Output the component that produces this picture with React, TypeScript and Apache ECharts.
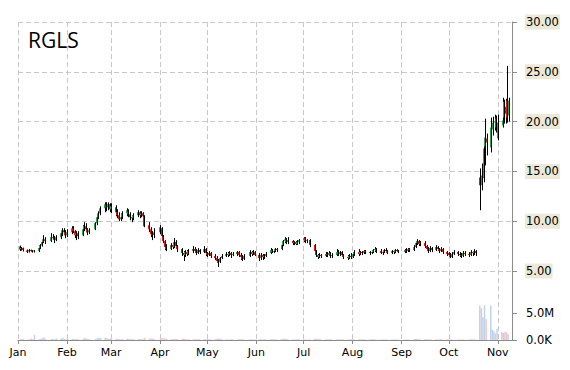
import React, { useEffect, useRef } from 'react';
import * as echarts from 'echarts';

const YEAR = 2013;
const MONTH_NAMES = ['Jan', 'Feb', 'Mar', 'Apr', 'May', 'Jun', 'Jul', 'Aug', 'Sep', 'Oct', 'Nov', 'Dec'];
const TICKER = 'RGLS';

// trading days (day of month) for each month, Jan..Nov
const TRADING_DAYS: number[][] = [
  [2, 3, 4, 7, 8, 9, 10, 11, 14, 15, 16, 17, 18, 22, 23, 24, 25, 28, 29, 30, 31],
  [1, 4, 5, 6, 7, 8, 11, 12, 13, 14, 15, 19, 20, 21, 22, 25, 26, 27, 28],
  [1, 4, 5, 6, 7, 8, 11, 12, 13, 14, 15, 18, 19, 20, 21, 22, 25, 26, 27, 28],
  [1, 2, 3, 4, 5, 8, 9, 10, 11, 12, 15, 16, 17, 18, 19, 22, 23, 24, 25, 26, 29, 30],
  [1, 2, 3, 6, 7, 8, 9, 10, 13, 14, 15, 16, 17, 20, 21, 22, 23, 24, 28, 29, 30, 31],
  [3, 4, 5, 6, 7, 10, 11, 12, 13, 14, 17, 18, 19, 20, 21, 24, 25, 26, 27, 28],
  [1, 2, 3, 5, 8, 9, 10, 11, 12, 15, 16, 17, 18, 19, 22, 23, 24, 25, 26, 29, 30, 31],
  [1, 2, 5, 6, 7, 8, 9, 12, 13, 14, 15, 16, 19, 20, 21, 22, 23, 26, 27, 28, 29, 30],
  [3, 4, 5, 6, 9, 10, 11, 12, 13, 16, 17, 18, 19, 20, 23, 24, 25, 26, 27, 30],
  [1, 2, 3, 4, 7, 8, 9, 10, 11, 14, 15, 16, 17, 18, 21, 22, 23, 24, 25, 28, 29, 30, 31],
  [1, 4, 5, 6, 7, 8],
];

// [open, close, low, high]
const OHLC_JAN = [
  [7.45, 7.15, 7.0, 7.55], [7.2, 7.3, 7.05, 7.4], [7.3, 7.1, 6.95, 7.35], [7.05, 6.9, 6.8, 7.15],
  [6.95, 7.1, 6.85, 7.2], [7.1, 7.0, 6.9, 7.15], [7.0, 6.95, 6.85, 7.1], [6.95, 7.05, 6.85, 7.1],
  [7.0, 7.3, 6.9, 7.4], [7.3, 7.6, 7.2, 7.7], [7.55, 7.9, 7.45, 8.0], [7.9, 8.2, 7.8, 8.6],
  [8.2, 8.0, 7.7, 8.4], [8.0, 8.4, 7.9, 8.8], [8.4, 8.3, 8.1, 8.7], [8.3, 8.1, 7.8, 8.5],
  [8.1, 8.4, 8.0, 8.6], [8.4, 8.8, 8.2, 9.0], [8.8, 9.1, 8.5, 9.3], [9.1, 8.9, 8.6, 9.3],
  [8.9, 8.6, 8.3, 9.1],
];
const OHLC_FEB = [
  [8.6, 8.9, 8.4, 9.2], [8.9, 9.3, 8.7, 9.5], [9.3, 9.0, 8.8, 9.5], [9.0, 8.6, 8.3, 9.1],
  [8.6, 8.8, 8.1, 9.0], [8.8, 8.5, 8.2, 9.0], [8.6, 9.2, 8.5, 9.6], [9.2, 9.5, 9.0, 9.9],
  [9.5, 9.2, 8.9, 9.8], [9.2, 8.9, 8.6, 9.3], [8.9, 9.1, 8.7, 9.3], [9.2, 9.8, 9.1, 9.9],
  [9.8, 10.4, 9.6, 10.5], [10.4, 10.8, 10.2, 11.0], [10.8, 11.3, 10.6, 11.5], [11.3, 11.7, 10.9, 11.9],
  [11.6, 11.4, 11.0, 11.9], [11.4, 11.7, 11.1, 11.9], [11.7, 11.2, 10.9, 11.8],
];
const OHLC_MAR = [
  [11.2, 11.5, 10.8, 11.8], [11.4, 10.9, 10.5, 11.6], [10.9, 10.6, 10.3, 11.2], [10.6, 10.2, 10.0, 10.9],
  [10.2, 10.4, 10.0, 10.8], [10.4, 10.8, 10.2, 11.0], [10.8, 11.1, 10.5, 11.3], [11.0, 10.7, 10.4, 11.2],
  [10.7, 10.4, 10.1, 10.9], [10.4, 10.3, 9.9, 10.6], [10.3, 10.6, 10.1, 10.8], [10.6, 10.9, 10.4, 11.1],
  [10.9, 10.6, 10.3, 11.0], [10.6, 10.8, 10.4, 11.0], [10.8, 10.5, 10.2, 10.9], [10.5, 9.5, 9.4, 10.6],
  [9.6, 9.2, 8.9, 9.9], [9.2, 8.7, 8.4, 9.4], [8.7, 8.6, 8.1, 9.0], [8.6, 8.9, 8.3, 9.3],
];
const OHLC_APR = [
  [8.9, 9.4, 8.7, 9.6], [9.3, 8.5, 8.2, 9.4], [8.5, 8.0, 7.8, 8.6], [8.0, 7.4, 7.1, 8.1],
  [7.4, 7.2, 7.0, 7.7], [7.2, 7.6, 7.1, 7.8], [7.6, 7.4, 7.2, 7.9], [7.4, 7.9, 7.3, 8.3],
  [7.9, 7.5, 7.3, 8.1], [7.5, 7.2, 6.9, 7.6], [7.2, 6.8, 6.5, 7.3], [6.8, 6.6, 6.0, 7.0],
  [6.6, 6.9, 6.4, 7.1], [6.9, 6.7, 6.5, 7.1], [6.7, 7.0, 6.6, 7.2], [7.0, 7.2, 6.8, 7.5],
  [7.2, 7.0, 6.8, 7.4], [7.0, 6.8, 6.6, 7.2], [6.8, 7.1, 6.7, 7.3], [7.1, 6.9, 6.7, 7.2],
  [6.9, 7.2, 6.8, 7.5], [7.2, 6.8, 6.5, 7.3],
];
const OHLC_MAY = [
  [6.8, 6.6, 6.4, 6.9], [6.6, 6.8, 6.5, 7.0], [6.8, 6.5, 6.3, 6.9], [6.5, 6.3, 6.1, 6.7],
  [6.3, 6.0, 5.8, 6.5], [6.0, 5.8, 5.4, 6.2], [5.9, 6.3, 5.8, 6.4], [6.3, 6.5, 6.2, 6.7],
  [6.5, 6.7, 6.4, 6.9], [6.7, 6.6, 6.4, 6.9], [6.6, 6.8, 6.5, 7.0], [6.8, 6.6, 6.3, 6.9],
  [6.6, 6.7, 6.5, 6.9], [6.7, 6.9, 6.5, 7.0], [6.9, 6.6, 6.4, 7.0], [6.6, 6.4, 6.1, 6.8],
  [6.4, 6.2, 6.0, 6.6], [6.2, 6.5, 6.1, 6.7], [6.5, 6.9, 6.4, 7.1], [6.9, 6.7, 6.5, 7.0],
  [6.7, 6.9, 6.6, 7.1], [6.9, 6.6, 6.5, 7.0],
];
const OHLC_JUN = [
  [6.6, 6.3, 6.0, 6.8], [6.3, 6.6, 6.1, 6.8], [6.6, 6.4, 6.1, 6.7], [6.4, 6.5, 6.2, 6.7],
  [6.5, 6.7, 6.4, 6.9], [6.8, 7.1, 6.7, 7.3], [7.1, 6.9, 6.8, 7.2], [6.9, 7.0, 6.8, 7.2],
  [7.0, 7.2, 6.9, 7.3], [7.2, 7.1, 6.9, 7.3], [7.2, 7.6, 7.1, 7.7], [7.6, 8.0, 7.5, 8.1],
  [8.0, 8.2, 7.8, 8.4], [8.2, 7.9, 7.7, 8.3], [7.9, 8.1, 7.7, 8.4], [8.0, 7.8, 7.6, 8.1],
  [7.8, 7.9, 7.6, 8.0], [7.9, 7.7, 7.6, 8.0], [7.7, 7.9, 7.6, 8.1], [7.9, 8.1, 7.7, 8.2],
];
const OHLC_JUL = [
  [8.1, 8.3, 7.9, 8.4], [8.3, 8.0, 7.8, 8.4], [8.0, 8.1, 7.8, 8.2], [8.1, 7.6, 7.4, 8.2],
  [7.6, 7.0, 6.8, 7.7], [7.0, 6.6, 6.4, 7.1], [6.6, 6.4, 6.2, 6.7], [6.4, 6.6, 6.3, 6.8],
  [6.6, 6.5, 6.3, 6.7], [6.5, 6.7, 6.4, 6.9], [6.7, 6.6, 6.4, 6.9], [6.6, 6.8, 6.5, 7.0],
  [6.8, 6.5, 6.3, 6.9], [6.5, 6.6, 6.3, 6.8], [6.6, 6.9, 6.5, 7.2], [6.9, 6.7, 6.5, 7.1],
  [6.7, 6.9, 6.5, 7.0], [6.9, 6.6, 6.4, 7.0], [6.6, 6.4, 6.2, 6.7], [6.4, 6.3, 6.1, 6.6],
  [6.3, 6.5, 6.2, 6.7], [6.5, 6.4, 6.2, 6.8],
];
const OHLC_AUG = [
  [6.4, 6.7, 6.3, 6.9], [6.7, 6.9, 6.5, 7.1], [6.9, 6.7, 6.5, 7.2], [6.7, 6.9, 6.6, 7.0],
  [6.9, 6.8, 6.6, 7.0], [6.8, 7.0, 6.7, 7.1], [7.0, 6.9, 6.7, 7.1], [6.9, 6.8, 6.6, 7.0],
  [6.8, 6.9, 6.7, 7.1], [6.9, 7.1, 6.8, 7.2], [7.1, 7.2, 6.9, 7.4], [7.2, 7.0, 6.8, 7.3],
  [7.0, 6.8, 6.7, 7.2], [6.8, 6.9, 6.6, 7.0], [6.9, 7.1, 6.8, 7.2], [7.1, 7.0, 6.8, 7.3],
  [7.0, 6.8, 6.7, 7.1], [6.8, 7.0, 6.7, 7.1], [7.0, 6.9, 6.7, 7.1], [6.9, 7.1, 6.8, 7.2],
  [7.1, 7.0, 6.9, 7.2], [7.0, 6.9, 6.8, 7.1],
];
const OHLC_SEP = [
  [6.9, 7.1, 6.8, 7.2], [7.1, 7.0, 6.8, 7.3], [7.0, 7.2, 6.9, 7.3], [7.2, 7.1, 6.9, 7.3],
  [7.1, 7.4, 7.0, 7.6], [7.4, 7.8, 7.3, 7.9], [7.8, 8.0, 7.6, 8.2], [8.0, 7.7, 7.5, 8.1],
  [7.7, 7.8, 7.5, 8.0], [7.8, 7.5, 7.3, 8.0], [7.5, 7.2, 7.0, 7.6], [7.2, 7.0, 6.8, 7.4],
  [7.0, 7.3, 6.9, 7.5], [7.3, 7.1, 6.9, 7.4], [7.1, 7.4, 7.0, 7.6], [7.4, 7.2, 7.0, 7.5],
  [7.2, 7.0, 6.8, 7.3], [7.0, 7.2, 6.9, 7.4], [7.2, 6.9, 6.7, 7.3], [6.9, 6.7, 6.5, 7.0],
];
const OHLC_OCT = [
  [6.8, 6.6, 6.4, 6.9], [6.6, 6.4, 6.3, 6.8], [6.4, 6.7, 6.3, 6.9], [6.7, 6.9, 6.6, 7.1],
  [6.9, 6.7, 6.5, 7.0], [6.7, 6.6, 6.4, 6.9], [6.6, 6.5, 6.3, 6.8], [6.5, 6.8, 6.4, 7.0],
  [6.8, 6.7, 6.5, 7.0], [6.7, 6.6, 6.4, 6.9], [6.6, 6.9, 6.5, 7.1], [6.9, 6.8, 6.5, 7.0],
  [6.8, 7.0, 6.6, 7.2], [7.0, 6.8, 6.5, 7.1], [14.4, 13.6, 11.1, 15.3], [13.6, 14.6, 13.1, 15.8],
  [14.3, 17.3, 13.9, 18.1], [17.5, 18.4, 15.6, 20.3], [18.3, 17.9, 16.6, 18.8], [17.4, 19.4, 16.9, 20.4],
  [19.2, 19.9, 18.6, 20.5], [19.9, 20.0, 19.1, 20.7], [20.3, 19.4, 18.9, 20.6],
];
const OHLC_NOV = [
  [18.3, 19.9, 18.1, 20.7], [19.6, 20.1, 19.4, 22.4], [20.4, 22.0, 19.8, 22.2], [21.5, 20.8, 19.8, 22.3],
  [22.1, 20.4, 19.9, 25.6], [20.6, 22.1, 20.0, 22.4],
];

// volume in thousands of shares
const VOL_JAN = [180, 120, 150, 90, 110, 260, 130, 950, 150, 200, 320, 480, 210, 180, 150, 120, 260, 300, 420, 180, 150];
const VOL_FEB = [300, 250, 180, 150, 200, 130, 220, 380, 260, 170, 140, 250, 330, 420, 380, 450, 300, 260, 210];
const VOL_MAR = [280, 220, 190, 160, 150, 170, 240, 200, 160, 140, 150, 190, 170, 160, 150, 380, 260, 300, 200, 180];
const VOL_APR = [240, 320, 280, 260, 190, 150, 140, 210, 170, 160, 220, 260, 150, 140, 130, 120, 140, 130, 150, 120, 140, 160];
const VOL_MAY = [150, 130, 120, 140, 180, 310, 220, 150, 120, 110, 100, 120, 110, 100, 130, 140, 120, 110, 150, 120, 110, 100];
const VOL_JUN = [140, 120, 110, 100, 120, 160, 130, 110, 120, 100, 150, 220, 240, 170, 130, 120, 110, 100, 120, 130];
const VOL_JUL = [120, 110, 80, 140, 230, 250, 180, 130, 110, 100, 120, 110, 130, 100, 120, 110, 100, 120, 130, 110, 100, 120];
const VOL_AUG = [100, 120, 110, 90, 100, 110, 90, 100, 110, 120, 130, 100, 90, 100, 110, 100, 90, 80, 100, 110, 90, 80];
const VOL_SEP = [100, 110, 90, 100, 130, 180, 220, 150, 120, 140, 130, 120, 110, 100, 120, 110, 100, 110, 120, 100];
const VOL_OCT = [110, 100, 120, 110, 100, 90, 110, 120, 100, 110, 100, 120, 110, 130, 6400, 5900, 4200, 6400, 3900, 6400, 1900, 1600, 1200];
const VOL_NOV = [2100, 1500, 1300, 1500, 1400, 1100];

const PRICE_TICKS = [5, 30, 5]; // min, max, interval
const VOL_AXIS = [0, 7400000, 5000000]; // min, max, interval
const X_MIN = '2013-01-01';
const X_MAX = '2013-11-10';

const OHLC_BY_MONTH = [OHLC_JAN, OHLC_FEB, OHLC_MAR, OHLC_APR, OHLC_MAY, OHLC_JUN, OHLC_JUL, OHLC_AUG, OHLC_SEP, OHLC_OCT, OHLC_NOV];
const VOL_BY_MONTH = [VOL_JAN, VOL_FEB, VOL_MAR, VOL_APR, VOL_MAY, VOL_JUN, VOL_JUL, VOL_AUG, VOL_SEP, VOL_OCT, VOL_NOV];

const GREEN = '#12b04e';
const RED = '#f20d0d';
const VOL_UP = '#bdd3ec';
const VOL_DOWN = '#f5c2c2';
const GRID_LINE = '#c8c8c8';
const AXIS_LINE = '#8c8c8c';

function buildData() {
  const candles: number[][] = [];
  const volumes: any[] = [];
  TRADING_DAYS.forEach((days, m) => {
    days.forEach((d, i) => {
      const t = new Date(YEAR, m, d).getTime();
      const [o, c, l, h] = OHLC_BY_MONTH[m][i];
      candles.push([t, o, c, l, h]);
      volumes.push({
        value: [t, VOL_BY_MONTH[m][i] * 1000],
        itemStyle: { color: c >= o ? VOL_UP : VOL_DOWN },
      });
    });
  });
  return { candles, volumes };
}

function parseDate(s: string) {
  const [y, m, d] = s.split('-').map(Number);
  return new Date(y, m - 1, d).getTime();
}

export default function App() {
  const ref = useRef<HTMLDivElement>(null);
  useEffect(() => {
    if (!ref.current) return;
    const chart = echarts.init(ref.current, null, { renderer: 'svg' });
    const { candles, volumes } = buildData();
    const xmin = parseDate(X_MIN);
    const xmax = parseDate(X_MAX);
    const DAY = 86400000;
    const left = 18;
    const right = 58;

    const hiddenTimeAxis = (gridIndex: number) => ({
      type: 'time', gridIndex, min: xmin, max: xmax, show: false,
      splitLine: { show: false },
    });

    const option: any = {
      animation: false,
      backgroundColor: '#ffffff',
      title: {
        text: TICKER, left: 23, top: 24,
        textStyle: { fontFamily: 'Open Sans', fontSize: 21, fontWeight: 'normal', color: '#000' },
      },
      grid: [
        { left, right, top: 22, height: 249 },
        { left, right, top: 300, height: 40 },
        { left, right, top: 22, height: 318 },
      ],
      xAxis: [
        hiddenTimeAxis(0),
        hiddenTimeAxis(1),
        {
          type: 'time', gridIndex: 2, min: xmin, max: xmax,
          splitNumber: 9, minInterval: 32 * DAY, maxInterval: 40 * DAY,
          axisLine: { show: true, lineStyle: { color: AXIS_LINE, width: 1 } },
          axisTick: { show: true, length: 4, lineStyle: { color: AXIS_LINE } },
          axisLabel: {
            show: true, margin: 7, color: '#000', fontFamily: 'DejaVu Sans', fontSize: 11,
            showMinLabel: true, showMaxLabel: false, hideOverlap: false,
            formatter: (v: number) => {
              const dt = new Date(v);
              return dt.getDate() === 1 ? MONTH_NAMES[dt.getMonth()] : '';
            },
          },
          splitLine: { show: true, lineStyle: { color: GRID_LINE, type: [5, 3], width: 1 } },
        },
      ],
      yAxis: [
        {
          type: 'value', gridIndex: 0, position: 'right',
          min: PRICE_TICKS[0], max: PRICE_TICKS[1], interval: PRICE_TICKS[2],
          axisLine: { show: false },
          axisTick: { show: true, length: 5, lineStyle: { color: AXIS_LINE } },
          axisLabel: {
            margin: 13, color: '#000', fontFamily: 'DejaVu Sans', fontSize: 11.5,
            backgroundColor: '#ece9d8', padding: [2, 1, 1, 1],
            formatter: (v: number) => v.toFixed(2),
          },
          splitLine: { show: true, lineStyle: { color: GRID_LINE, type: [5, 3], width: 1 } },
        },
        {
          type: 'value', gridIndex: 1, position: 'right',
          min: VOL_AXIS[0], max: VOL_AXIS[1], interval: VOL_AXIS[2],
          axisLine: { show: false },
          axisTick: { show: true, length: 5, lineStyle: { color: AXIS_LINE } },
          axisLabel: {
            margin: 13, color: '#000', fontFamily: 'DejaVu Sans', fontSize: 11.5,
            padding: [2, 1, 1, 1],
            showMaxLabel: false,
            formatter: (v: number) => (v === 0 ? '0.0K' : v >= 1e6 ? (v / 1e6).toFixed(1) + 'M' : (v / 1e3).toFixed(1) + 'K'),
          },
          splitLine: { show: false },
        },
        {
          type: 'value', gridIndex: 2, position: 'right', min: 0, max: 1,
          axisLine: { show: true, lineStyle: { color: AXIS_LINE, width: 1 } },
          axisTick: { show: false }, axisLabel: { show: false }, splitLine: { show: false },
        },
      ],
      series: [
        {
          type: 'custom', name: 'price', xAxisIndex: 0, yAxisIndex: 0,
          data: candles,
          encode: { x: 0, y: [1, 2, 3, 4] },
          renderItem: (params: any, api: any) => {
            const t = api.value(0);
            const o = api.value(1), c = api.value(2), l = api.value(3), h = api.value(4);
            const ph = api.coord([t, h]);
            const pl = api.coord([t, l]);
            const po = api.coord([t, o]);
            const pc = api.coord([t, c]);
            const x = Math.round(ph[0]);
            const up = c >= o;
            const top = Math.min(po[1], pc[1]);
            const bh = Math.max(1, Math.abs(po[1] - pc[1]));
            return {
              type: 'group',
              children: [
                { type: 'line', shape: { x1: x + 0.5, y1: ph[1], x2: x + 0.5, y2: pl[1] }, style: { stroke: '#000', lineWidth: 1 } },
                { type: 'rect', shape: { x: x - 1, y: top, width: 1, height: bh }, style: { fill: up ? GREEN : RED } },
              ],
            };
          },
        },
        {
          type: 'bar', name: 'volume', xAxisIndex: 1, yAxisIndex: 1,
          data: volumes, barWidth: 1.5,
        },
      ],
    };
    chart.setOption(option);
    return () => chart.dispose();
  }, []);
  return <div ref={ref} style={{ position: 'fixed', left: 0, top: 0, width: 570, height: 370 }} />;
}
